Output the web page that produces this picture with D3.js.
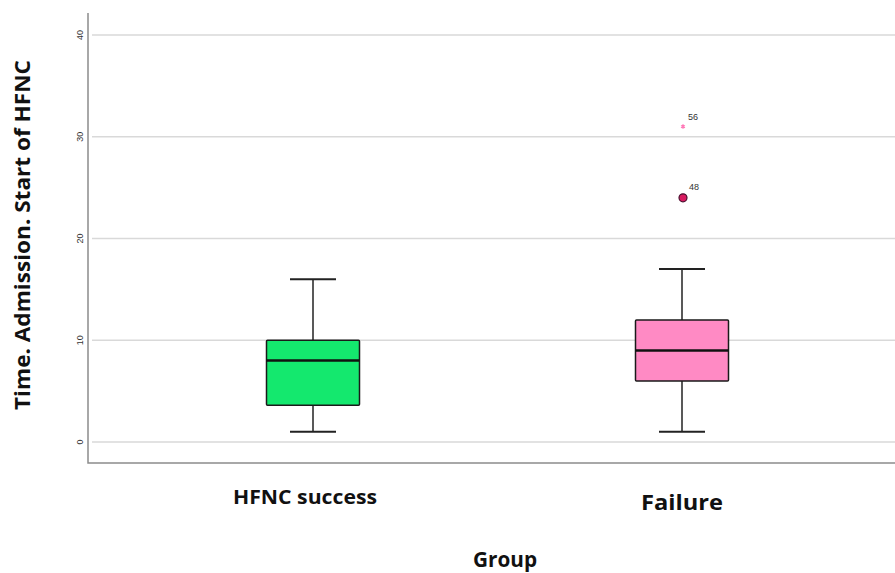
<!DOCTYPE html>
<html><head><meta charset="utf-8">
<script src="https://cdn.jsdelivr.net/npm/d3@7/dist/d3.min.js"></script>
<style>body{margin:0;background:#fff}svg{display:block}</style>
</head><body>
<svg id="c" width="895" height="573"></svg>
<script>
const categories = ["HFNC success", "Failure"];
const whiskerLow = [1, 1];
const q1 = [3.6, 6];
const median = [8, 9];
const q3 = [10, 12];
const whiskerHigh = [16, 17];
const boxColors = ["#14e86e", "#ff8ac4"];
const outliers = [
  {group: "Failure", value: 24, label: "48", type: "circle"},
  {group: "Failure", value: 31, label: "56", type: "star"}
];
const yTicks = [0, 10, 20, 30, 40];

const svg = d3.select("#c");
const y = d3.scaleLinear().domain([0, 40]).range([442, 35]);
const x = d3.scalePoint().domain(categories).range([313, 682]);
const bw = 93;
const cx = d => x(d);

// grid lines
svg.append("g").selectAll("line").data(yTicks).join("line")
  .attr("x1", 92).attr("x2", 895)
  .attr("y1", d => y(d)).attr("y2", d => y(d))
  .attr("stroke", "#d9d9d9").attr("stroke-width", 1.5);

// tick labels (rotated)
svg.append("g").selectAll("text").data(y.ticks(4).filter(t => yTicks.includes(t))).join("text")
  .attr("transform", d => `translate(80,${y(d)}) rotate(-90)`)
  .attr("text-anchor", "middle").attr("dy", "0.35em")
  .attr("font-family", "Arial, sans-serif").attr("font-size", 9).attr("fill", "#333")
  .text(d => d);

svg.append("path").attr("d", "M88,13V463H895").attr("fill", "none").attr("stroke", "#8c8c8c").attr("stroke-width", 1.5);

// boxes
const g = svg.append("g");
categories.forEach((c, i) => {
  const X = cx(c);
  g.append("line").attr("x1", X).attr("x2", X).attr("y1", y(whiskerHigh[i])).attr("y2", y(q3[i])).attr("stroke", "#222").attr("stroke-width", 1.5);
  g.append("line").attr("x1", X).attr("x2", X).attr("y1", y(q1[i])).attr("y2", y(whiskerLow[i])).attr("stroke", "#222").attr("stroke-width", 1.5);
  g.append("line").attr("x1", X - 23).attr("x2", X + 23).attr("y1", y(whiskerHigh[i])).attr("y2", y(whiskerHigh[i])).attr("stroke", "#222").attr("stroke-width", 2);
  g.append("line").attr("x1", X - 23).attr("x2", X + 23).attr("y1", y(whiskerLow[i])).attr("y2", y(whiskerLow[i])).attr("stroke", "#222").attr("stroke-width", 2);
  g.append("rect").attr("x", X - bw / 2).attr("width", bw).attr("y", y(q3[i])).attr("height", y(q1[i]) - y(q3[i]))
    .attr("fill", boxColors[i]).attr("stroke", "#1a1a1a").attr("stroke-width", 1.5).attr("rx", 1);
  g.append("line").attr("x1", X - bw / 2).attr("x2", X + bw / 2).attr("y1", y(median[i])).attr("y2", y(median[i])).attr("stroke", "#111").attr("stroke-width", 2.5);
});

// outliers
outliers.forEach(o => {
  const X = cx(o.group) + 1, Y = y(o.value);
  if (o.type === "circle") {
    g.append("circle").attr("cx", X).attr("cy", Y).attr("r", 4).attr("fill", "#d81b60").attr("stroke", "#4a1030").attr("stroke-width", 1.2);
    g.append("text").attr("x", X + 6).attr("y", Y - 8).text(o.label).attr("font-family", "Arial, sans-serif").attr("font-size", 9).attr("fill", "#333");
  } else {
    g.append("path").attr("d", d3.symbol(d3.symbolAsterisk, 14)()).attr("transform", `translate(${X},${Y})`).attr("stroke", "#ff7ab8").attr("stroke-width", 1.3).attr("fill", "#ff7ab8");
    g.append("text").attr("x", X + 5).attr("y", Y - 7).text(o.label).attr("font-family", "Arial, sans-serif").attr("font-size", 9).attr("fill", "#333");
  }
});

// category labels
const lab = svg.append("g").attr("font-family", "'Open Sans', Lato, sans-serif").attr("font-weight", "bold").attr("fill", "#111").attr("text-anchor", "middle");
lab.append("text").attr("x", 305).attr("y", 504).attr("font-size", 20).attr("textLength", 144).attr("lengthAdjust", "spacingAndGlyphs").text(categories[0]);
lab.append("text").attr("x", 682).attr("y", 510).attr("font-size", 22).attr("textLength", 82).attr("lengthAdjust", "spacingAndGlyphs").text(categories[1]);
lab.append("text").attr("x", 505).attr("y", 567).attr("font-size", 21).attr("textLength", 64).attr("lengthAdjust", "spacingAndGlyphs").text("Group");
lab.append("text").attr("transform", "translate(30,235) rotate(-90)").attr("font-size", 21).attr("textLength", 350).attr("lengthAdjust", "spacingAndGlyphs").text("Time. Admission. Start of HFNC");
</script>
</body></html>
